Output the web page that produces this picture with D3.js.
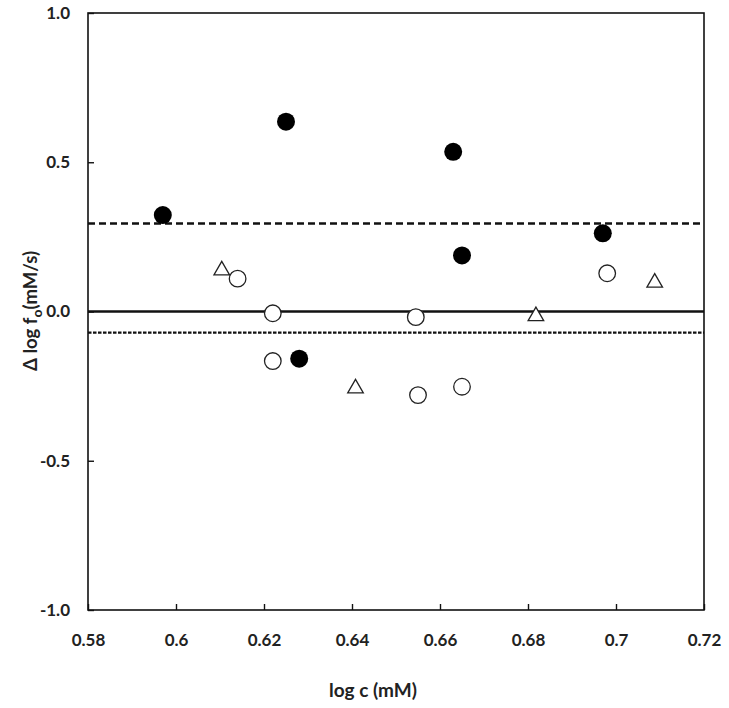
<!DOCTYPE html>
<html><head><meta charset="utf-8">
<script src="https://cdn.jsdelivr.net/npm/d3@7"></script>
<style>body{margin:0;background:#fff}svg{display:block}text{font-family:Lato,"Open Sans",sans-serif;font-weight:700;fill:#222}</style>
</head><body>
<svg id="c" width="729" height="708"></svg>
<script>
const xTicks = [0.58, 0.6, 0.62, 0.64, 0.66, 0.68, 0.7, 0.72];
const xTickLabels = ["0.58","0.6","0.62","0.64","0.66","0.68","0.7","0.72"];
const yTicks = [-1.0, -0.5, 0.0, 0.5, 1.0];
const yTickLabels = ["-1.0","-0.5","0.0","0.5","1.0"];
const filledX = [0.597, 0.625, 0.663, 0.665, 0.628, 0.697];
const filledY = [0.323, 0.636, 0.535, 0.188, -0.158, 0.262];
const openX = [0.614, 0.622, 0.6545, 0.622, 0.655, 0.665, 0.698];
const openY = [0.110, -0.006, -0.019, -0.166, -0.280, -0.252, 0.128];
const triX = [0.6104, 0.6408, 0.6818, 0.7088];
const triY = [0.141, -0.254, -0.012, 0.100];
const upperLimit = 0.295;
const lowerLimit = -0.071;
const meanLine = 0.0;

const svg = d3.select("#c");
const L = 88, R = 704, T = 13, B = 610;
const x = d3.scaleLinear().domain([0.58, 0.72]).range([L, R]);
const y = d3.scaleLinear().domain([-1, 1]).range([B, T]);
const FONT = 'Lato,"Open Sans",sans-serif';

svg.append("rect").attr("x", L).attr("y", T).attr("width", R - L).attr("height", B - T)
  .attr("fill", "none").attr("stroke", "#111").attr("stroke-width", 1.6);

const xAxis = d3.axisBottom(x).tickValues(xTicks).tickSize(-6).tickFormat((d, i) => xTickLabels[i]).tickPadding(24);
const gx = svg.append("g").attr("transform", `translate(0,${B})`).call(xAxis);
gx.select(".domain").remove();
gx.selectAll("line").attr("stroke", "#111").attr("stroke-width", 1.4);
gx.selectAll("text").attr("font-size", 17).style("font-family", FONT).style("font-weight", 700).attr("fill", "#222");

const yAxis = d3.axisLeft(y).tickValues(yTicks).tickSize(-6).tickFormat((d, i) => yTickLabels[i]).tickPadding(18);
const gy = svg.append("g").attr("transform", `translate(${L},0)`).call(yAxis);
gy.select(".domain").remove();
gy.selectAll("line").attr("stroke", "#111").attr("stroke-width", 1.4);
gy.selectAll("text").attr("font-size", 17).style("font-family", FONT).style("font-weight", 700).attr("fill", "#222");

svg.append("line").attr("x1", L).attr("x2", R).attr("y1", y(meanLine)).attr("y2", y(meanLine))
  .attr("stroke", "#111").attr("stroke-width", 2.6);
svg.append("line").attr("x1", L).attr("x2", R).attr("y1", y(upperLimit)).attr("y2", y(upperLimit))
  .attr("stroke", "#111").attr("stroke-width", 2.4).attr("stroke-dasharray", "7,4");
svg.append("line").attr("x1", L).attr("x2", R).attr("y1", y(lowerLimit)).attr("y2", y(lowerLimit))
  .attr("stroke", "#111").attr("stroke-width", 2.2).attr("stroke-dasharray", "3.5,1.5");

svg.append("g").selectAll("circle").data(openX.map((v, i) => [v, openY[i]])).join("circle")
  .attr("cx", d => x(d[0])).attr("cy", d => y(d[1])).attr("r", 8.3)
  .attr("fill", "#fff").attr("stroke", "#222").attr("stroke-width", 1.3);
svg.append("g").selectAll("circle").data(filledX.map((v, i) => [v, filledY[i]])).join("circle")
  .attr("cx", d => x(d[0])).attr("cy", d => y(d[1])).attr("r", 9)
  .attr("fill", "#000");
const tri = d3.symbol().type(d3.symbolTriangle).size(105);
svg.append("g").selectAll("path").data(triX.map((v, i) => [v, triY[i]])).join("path")
  .attr("d", tri).attr("transform", d => `translate(${x(d[0])},${y(d[1]) + 1})`)
  .attr("fill", "#fff").attr("stroke", "#222").attr("stroke-width", 1.3);

svg.append("text").attr("x", 373).attr("y", 697).attr("text-anchor", "middle").attr("font-size", 19).text("log c (mM)");
const yt = svg.append("text").attr("transform", "translate(37,311) rotate(-90)").attr("text-anchor", "middle").attr("font-size", 18.5);
yt.append("tspan").text("Δ log f");
yt.append("tspan").attr("font-size", 14).attr("dy", 5).text("o");
yt.append("tspan").attr("dy", -5).text("(mM/s)");
</script>
</body></html>
